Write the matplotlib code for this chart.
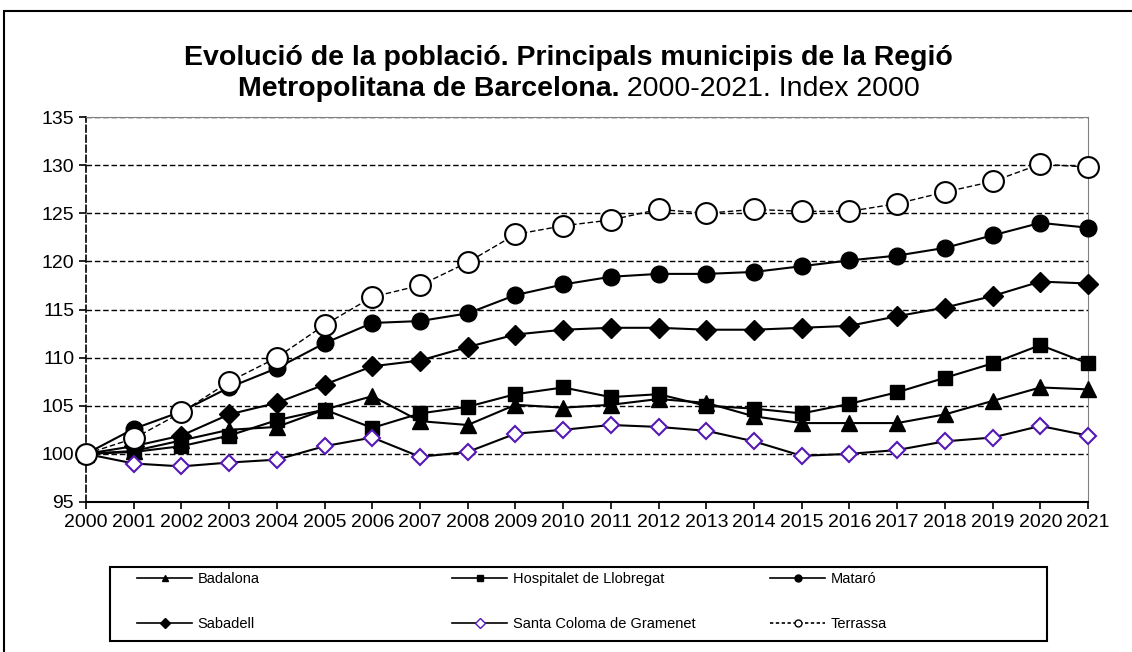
import matplotlib
matplotlib.use('Agg')
import matplotlib.pyplot as plt
from matplotlib.lines import Line2D
from matplotlib.patches import Rectangle

plt.rcParams['font.family'] = ['Liberation Sans', 'DejaVu Sans']

# Data (index 2000 = 100)
years = list(range(2000, 2022))
badalona = [100, 100.3, 101.4, 102.5, 102.8, 104.6, 106.0, 103.4, 103.0, 105.1, 104.8,
            105.1, 105.7, 105.3, 103.9, 103.2, 103.2, 103.2, 104.1, 105.5, 106.9, 106.7]
hospitalet = [100, 100.2, 100.8, 101.9, 103.5, 104.6, 102.7, 104.2, 104.9, 106.2, 106.9,
              105.9, 106.2, 105.0, 104.7, 104.2, 105.2, 106.4, 107.9, 109.4, 111.3, 109.4]
mataro = [100, 102.6, 104.4, 106.9, 108.9, 111.5, 113.6, 113.8, 114.6, 116.5, 117.6,
          118.4, 118.7, 118.7, 118.9, 119.5, 120.1, 120.6, 121.4, 122.7, 124.0, 123.5]
sabadell = [100, 100.8, 101.9, 104.1, 105.3, 107.2, 109.1, 109.7, 111.1, 112.4, 112.9,
            113.1, 113.1, 112.9, 112.9, 113.1, 113.3, 114.3, 115.2, 116.4, 117.9, 117.7]
santa_coloma = [100, 99.0, 98.7, 99.1, 99.4, 100.8, 101.7, 99.7, 100.2, 102.1, 102.5,
                103.0, 102.8, 102.4, 101.3, 99.8, 100.0, 100.4, 101.3, 101.7, 102.9, 101.9]
terrassa = [100, 101.6, 104.3, 107.5, 110.0, 113.4, 116.3, 117.5, 119.9, 122.8, 123.7,
            124.3, 125.4, 125.0, 125.4, 125.2, 125.2, 126.0, 127.2, 128.3, 130.1, 129.8]
yticks = list(range(95, 140, 5))

purple = '#5518b5'
dash = (0, (4, 2))

fig = plt.figure(figsize=(11.32, 6.52), dpi=100)
ax = fig.add_axes([86 / 1132, 150 / 652, 1002 / 1132, 385 / 652])

# Series
ax.plot(years, badalona, color='black', lw=1.5, marker='^', ms=11, clip_on=False, zorder=3)
ax.plot(years, hospitalet, color='black', lw=1.5, marker='s', ms=10, clip_on=False, zorder=4)
ax.plot(years, mataro, color='black', lw=1.5, marker='o', ms=12, clip_on=False, zorder=5)
ax.plot(years, sabadell, color='black', lw=1.5, marker='D', ms=10, clip_on=False, zorder=6)
ax.plot(years, santa_coloma, color='black', lw=1.5, marker='D', ms=8, mfc='white',
        mec=purple, mew=1.5, clip_on=False, zorder=7)
ax.plot(years, terrassa, color='black', lw=1, ls=dash, marker='o', ms=15, mfc='white',
        mec='black', mew=1.5, clip_on=False, zorder=8)

# Axes styling
ax.set_xlim(2000, 2021)
ax.set_ylim(95, 135)
ax.set_xticks(years)
ax.set_yticks(yticks)
ax.tick_params(axis='both', labelsize=14, length=5, width=1.2, color='black', direction='out')
ax.yaxis.grid(True, color='black', lw=1, ls=dash, zorder=1)
ax.set_axisbelow(True)
ax.spines['top'].set_color('#808080')
ax.spines['right'].set_color('#808080')
ax.spines['left'].set_linestyle(dash)
ax.spines['left'].set_linewidth(1.2)
ax.spines['bottom'].set_linewidth(1.5)

# Title, bold part plus normal part on line 2
fig.text(568 / 1132, 1 - 58 / 652, 'Evolució de la població. Principals municipis de la Regió',
         ha='center', va='center', fontsize=20.5, fontweight='bold')
t1 = fig.text(0, 1 - 89 / 652, 'Metropolitana de Barcelona.', ha='left', va='center',
              fontsize=20.5, fontweight='bold')
t2 = fig.text(0, 1 - 89 / 652, ' 2000-2021. Index 2000', ha='left', va='center', fontsize=20.5)
fig.canvas.draw()
r = fig.canvas.get_renderer()
w1 = t1.get_window_extent(r).width
w2 = t2.get_window_extent(r).width
x0 = 579 - (w1 + w2) / 2
t1.set_x(x0 / 1132)
t2.set_x((x0 + w1) / 1132)

# Outer frame and legend frame
fig.patches.append(Rectangle((4 / 1132, -0.1), 1.2, 1 - 11 / 652 + 0.1, transform=fig.transFigure,
                             fill=False, lw=1.5, ec='black'))
fig.patches.append(Rectangle((110 / 1132, 1 - 641 / 652), 937 / 1132, 74 / 652,
                             transform=fig.transFigure, fill=False, lw=1.5, ec='black'))

# Legend, three columns placed by hand
def handle(marker, mfc='black', mec='black', ls='-'):
    return Line2D([], [], color='black', lw=1.2, ls=ls, marker=marker, ms=5, mfc=mfc, mec=mec)

cols = [
    (137, [handle('^'), handle('D')], ['Badalona', 'Sabadell']),
    (452, [handle('s'), handle('D', 'white', purple)], ['Hospitalet de Llobregat', 'Santa Coloma de Gramenet']),
    (770, [handle('o'), handle('o', 'white', 'black', (0, (2, 1.5)))], ['Mataró', 'Terrassa']),
]
for x, hs, labels in cols:
    fig.legend(hs, labels, loc='upper left', bbox_to_anchor=(x / 1132, 1 - 572 / 652),
               bbox_transform=fig.transFigure, frameon=False, borderpad=0, borderaxespad=0,
               fontsize=10.5, handlelength=3.8, handletextpad=0.35, labelspacing=2.12)

fig.savefig('out.png', dpi=100)
